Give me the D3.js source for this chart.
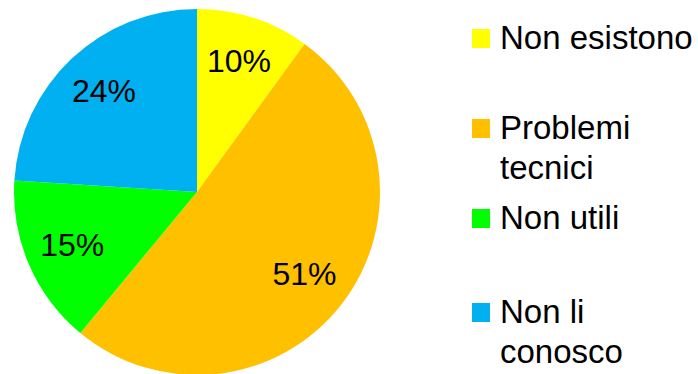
<!DOCTYPE html>
<html>
<head>
<meta charset="utf-8">
<script src="https://cdn.jsdelivr.net/npm/d3@7"></script>
<style>
  html, body { margin: 0; padding: 0; background: #fff; }
  text { font-family: "Liberation Sans", Arial, sans-serif; }
</style>
</head>
<body>
<svg id="vis" width="698" height="374"></svg>
<script>
// Dati
const categorie = ["Non esistono", "Problemi tecnici", "Non utili", "Non li conosco"];
const valori = [10, 51, 15, 24];
const colori = ["#FFFF00", "#FFC000", "#00FF00", "#00B0F0"];
// righe della legenda (testo a capo come nell'originale)
const righeLegenda = [["Non esistono"], ["Problemi", "tecnici"], ["Non utili"], ["Non li", "conosco"]];

const SVG = d3.select("#vis");

const cx = 197, cy = 192, raggio = 183;

const pie = d3.pie().sort(null).value(d => d);
const arc = d3.arc().innerRadius(0).outerRadius(raggio);
const arcLabel = d3.arc().innerRadius(136).outerRadius(136);

const g = SVG.append("g").attr("transform", `translate(${cx},${cy})`);

const fette = pie(valori);

// Fette della torta
g.selectAll("path")
  .data(fette)
  .join("path")
  .attr("d", arc)
  .attr("fill", (d, i) => colori[i]);

// Etichette percentuali
g.selectAll("text")
  .data(fette)
  .join("text")
  .attr("transform", d => `translate(${arcLabel.centroid(d)})`)
  .attr("text-anchor", "middle")
  .attr("dy", "0.3em")
  .attr("font-size", 32)
  .attr("fill", "#000")
  .text(d => d.data + "%");

// Legenda
const baseY = [49, 139, 229, 323];
const leg = SVG.append("g");

const voci = leg.selectAll("g")
  .data(categorie)
  .join("g")
  .attr("transform", (d, i) => `translate(472,${baseY[i]})`);

voci.append("rect")
  .attr("x", 0)
  .attr("y", -20)
  .attr("width", 18)
  .attr("height", 19)
  .attr("fill", (d, i) => colori[i]);

voci.append("text")
  .attr("x", 28)
  .attr("y", 0)
  .attr("font-size", 33)
  .attr("fill", "#000")
  .selectAll("tspan")
  .data((d, i) => righeLegenda[i])
  .join("tspan")
  .attr("x", 28)
  .attr("dy", (d, j) => j === 0 ? 0 : 40)
  .text(d => d);
</script>
</body>
</html>
